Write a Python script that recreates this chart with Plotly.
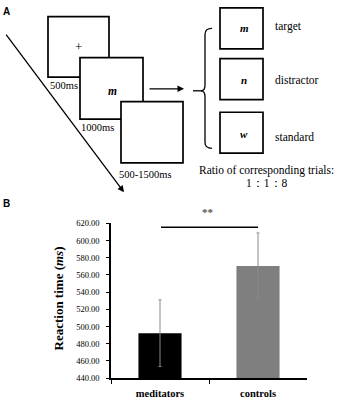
import plotly.graph_objects as go

# ---- data (panel B) ----
groups = ["meditators", "controls"]
rt_mean = [492.3, 570.3]
rt_sd = [38.7, 38.6]
bar_colors = ["#000000", "#7f7f7f"]
y_ticks = [440, 460, 480, 500, 520, 540, 560, 580, 600, 620]

# ---- panel A texts ----
stim_letters = ["m", "n", "w"]
stim_labels = ["target", "distractor", "standard"]
durations = ["500ms", "1000ms", "500-1500ms"]
ratio_title = "Ratio of corresponding trials:"
ratio_text = "1：1：8"

W, H = 340, 400
SERIF = "Liberation Serif, Times New Roman, serif"
SANS = "Liberation Sans, Arial, sans-serif"


def X(px):
    return px / W


def Y(py):
    return 1 - py / H


fig = go.Figure()
fig.add_trace(go.Bar(
    x=groups, y=rt_mean, marker_color=bar_colors, marker_line_width=0,
    width=0.44,
    error_y=dict(type="data", array=rt_sd, visible=True, color="#8a8a8a",
                 thickness=1, width=1.5),
    showlegend=False,
))

shapes = []
ann = []

# boxes (left sequence)
for (x0, y0, x1, y1) in [(48, 12, 109, 74), (80, 54, 143, 117), (121, 99, 183, 162)]:
    shapes.append(dict(type="rect", xref="paper", yref="paper",
                       x0=X(x0), y0=Y(y0), x1=X(x1), y1=Y(y1),
                       line=dict(color="black", width=1.7), fillcolor="white"))
# boxes (right)
for (y0, y1) in [(3, 45), (55, 97), (110, 152)]:
    shapes.append(dict(type="rect", xref="paper", yref="paper",
                       x0=X(220), y0=Y(y0), x1=X(263), y1=Y(y1),
                       line=dict(color="black", width=1.7), fillcolor="white"))

# brace
pts = "M {},{} Q {},{} {},{} L {},{} Q {},{} {},{} Q {},{} {},{} L {},{} Q {},{} {},{}".format(
    X(212), Y(24), X(205), Y(24), X(205), Y(30),
    X(205), Y(82), X(205), Y(88), X(201), Y(88),
    X(205), Y(88), X(205), Y(94),
    X(205), Y(141), X(205), Y(147), X(212), Y(147))
shapes.append(dict(type="path", xref="paper", yref="paper", path=pts,
                   line=dict(color="black", width=1.3)))
shapes.append(dict(type="line", xref="paper", yref="paper",
                   x0=X(193), y0=Y(88), x1=X(202), y1=Y(88),
                   line=dict(color="black", width=1.3)))

# significance line
shapes.append(dict(type="line", xref="paper", yref="paper",
                   x0=X(161), y0=Y(228), x1=X(258), y1=Y(228),
                   line=dict(color="black", width=1.5)))

# arrows
ann.append(dict(xref="paper", yref="paper", x=X(124), y=Y(192), ax=5 - 124, ay=33 - 192,
                showarrow=True, arrowhead=2, arrowsize=1, arrowwidth=1.3,
                arrowcolor="black", text=""))
ann.append(dict(xref="paper", yref="paper", x=X(184), y=Y(86), ax=148 - 184, ay=0,
                showarrow=True, arrowhead=2, arrowsize=1, arrowwidth=1.3,
                arrowcolor="black", text=""))


def txt(text, px, py, size, family=SERIF, xanchor="center", color="black"):
    ann.append(dict(xref="paper", yref="paper", x=X(px), y=Y(py), text=text,
                    showarrow=False, xanchor=xanchor, yanchor="middle",
                    font=dict(family=family, size=size, color=color)))


txt("<b>A</b>", 1, 7, 10, SANS, "left")
txt("<b>B</b>", 1, 204, 10, SANS, "left")
txt("+", 78, 43, 13)
txt("<b><i>m</i></b>", 112, 88, 11.5)
txt(durations[0], 48, 83, 10.5, xanchor="left")
txt(durations[1], 79, 126, 10.5, xanchor="left")
txt(durations[2], 117, 174, 10.5, xanchor="left")
for letter, cy in zip(stim_letters, [24, 77, 132]):
    txt("<b><i>" + letter + "</i></b>", 244, cy, 11)
for lab, cy in zip(stim_labels, [22, 77, 135]):
    txt(lab, 273, cy, 11.5, xanchor="left")
txt(ratio_title, 266, 170, 11.5)
txt(ratio_text, 267, 183, 11.5)
txt("<b>**</b>", 208, 212, 11, color="#555555")
ann.append(dict(xref="paper", yref="paper", x=X(58), y=Y(301),
                text="<b>Reaction time (<i>ms</i>)</b>", textangle=-90,
                showarrow=False, xanchor="center", yanchor="middle",
                font=dict(family=SERIF, size=13, color="black")))

fig.update_layout(
    width=W, height=H,
    margin=dict(l=0, r=0, t=0, b=0),
    paper_bgcolor="white", plot_bgcolor="white",
    shapes=shapes, annotations=ann,
    bargap=0.5,
    xaxis=dict(domain=[X(111), X(307)], range=[-0.5, 1.5],
               showline=True, linecolor="black", linewidth=1.5,
               ticks="outside", tickson="boundaries", ticklen=4,
               tickcolor="black", tickwidth=1.2,
               tickfont=dict(family=SERIF, size=10.5, color="black"),
               ticklabelstandoff=5,
               tickprefix="<b>", ticksuffix="</b>", showgrid=False),
    yaxis=dict(domain=[Y(382.7), Y(224)], range=[440, 620],
               tickvals=y_ticks, tickformat=".2f",
               showline=True, linecolor="black", linewidth=1.5,
               ticks="outside", ticklen=3, tickcolor="black", tickwidth=1.2,
               tickfont=dict(family=SERIF, size=8.5, color="black"),
               ticklabelstandoff=5,
               tickprefix="<b>", ticksuffix="</b>",
               showgrid=False, zeroline=False),
)

fig.write_html("out.html", config={"displayModeBar": False},
               post_script="document.body.style.margin='0';document.body.style.overflow='hidden';")
